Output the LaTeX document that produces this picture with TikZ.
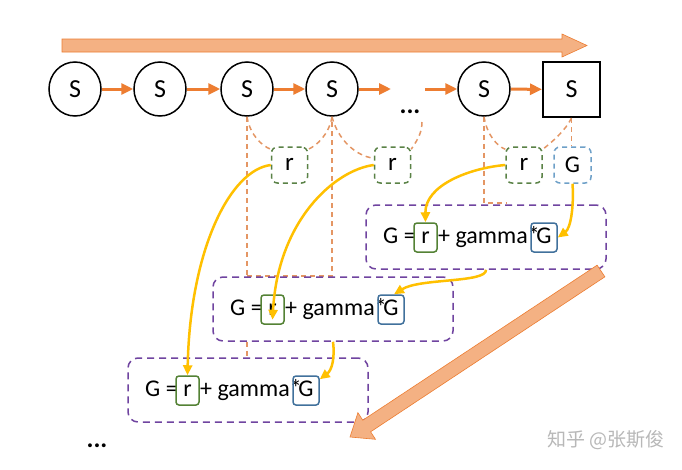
\documentclass[tikz,border=0pt]{standalone}
\usepackage{fontspec}
\setmainfont{Carlito}
\newfontfamily\cjkfont{Noto Sans CJK SC}
\usetikzlibrary{arrows.meta,shapes.geometric}

\definecolor{orng}{RGB}{237,125,49}
\definecolor{dorng}{RGB}{228,150,100}
\definecolor{salmon}{RGB}{244,177,131}
\definecolor{purp}{RGB}{112,68,160}
\definecolor{grn}{RGB}{84,130,53}
\definecolor{dgrn}{RGB}{90,130,70}
\definecolor{blu}{RGB}{65,113,156}
\definecolor{dblu}{RGB}{110,160,200}
\definecolor{ylw}{RGB}{255,192,0}

\tikzset{
 snode/.style={ellipse, draw, line width=1.5pt, minimum width=52pt, minimum height=54pt, inner sep=0pt, font=\fontsize{26}{30}\selectfont},
 sqnode/.style={rectangle, draw, line width=2pt, minimum width=57pt, minimum height=55pt, inner sep=0pt, font=\fontsize{26}{30}\selectfont},
 flow/.style={orng, line width=3pt, -{Triangle[length=12pt,width=11pt]}},
 link/.style={dorng, line width=1.5pt, dash pattern=on 5pt off 4pt},
 rdash/.style={draw=dgrn, dash pattern=on 5pt off 4pt, line width=1.5pt, rounded corners=6pt, minimum width=36pt, minimum height=36pt, inner sep=0pt, text height=14pt, text depth=4pt, font=\fontsize{25}{28}\selectfont},
 gdash/.style={draw=dblu, dash pattern=on 5pt off 4pt, line width=1.5pt, rounded corners=6pt, minimum width=37pt, minimum height=36pt, inner sep=0pt, font=\fontsize{24}{28}\selectfont},
 fbox/.style={draw=purp, fill=white, line width=1.5pt, dash pattern=on 7pt off 5pt, rounded corners=10pt, minimum width=240pt, minimum height=64pt, inner sep=0pt},
 ftext/.style={inner sep=0pt, text height=17pt, text depth=6pt, font=\fontsize{24}{28}\selectfont},
 rsol/.style={draw=grn, line width=1.5pt, rounded corners=3pt, minimum width=23pt, minimum height=29pt, inner sep=0pt, text height=17pt, text depth=6pt, font=\fontsize{24}{28}\selectfont},
 gsol/.style={draw=blu, line width=1.5pt, rounded corners=3pt, minimum width=26pt, minimum height=29pt, inner sep=0pt, text height=17pt, text depth=6pt, font=\fontsize{24}{28}\selectfont},
 pass/.style={ylw, line width=2.5pt, -{Triangle[length=10pt,width=9pt]}},
 bigarrow/.style={fill=salmon, draw=orng, line width=0.6pt},
 dotsty/.style={inner sep=0pt, font=\bfseries\fontsize{26}{28}\selectfont},
}

\newcommand\mkformula[3]{%
 \node[fbox] (#1) at (#2+120,#3+32) {};
 \node[ftext,anchor=west] (#1a) at (#2+17,#3+32.5) {G =};
 \node[rsol] (#1r) at (#2+59.5,#3+32.5) {r};
 \node[ftext,anchor=west] (#1b) at (#2+72,#3+32.5) {+ gamma*};
 \node[gsol] (#1g) at (#2+178,#3+32.5) {G};
}

\begin{document}
\begin{tikzpicture}[x=1pt,y=-1pt]
\fill[white] (0,0) rectangle (682,469);
\useasboundingbox (0,0) rectangle (682,469);

% top progress arrow
\draw[bigarrow] (62,39) -- (562,39) -- (562,34) -- (587,45.5) -- (562,57) -- (562,52) -- (62,52) -- cycle;

% states
\node[snode] (c1) at (75,89) {S};
\node[snode] (c2) at (160,89) {S};
\node[snode] (c3) at (247,89) {S};
\node[snode] (c4) at (332,89) {S};
\node[snode] (c5) at (484,89) {S};
\node[sqnode] (sq) at (571.5,89.5) {S};
\coordinate (dA) at (391,89);
\coordinate (dB) at (425,89);
\node[dotsty] (dots) at (410,112) {...};
\coordinate (dl) at (422,122);

\draw[flow] (c1) -- (c2);
\draw[flow] (c2) -- (c3);
\draw[flow] (c3) -- (c4);
\draw[flow] (c4) -- (dA);
\draw[flow] (dB) -- (c5);
\draw[flow] (c5) -- (sq);

% reward / return boxes
\node[rdash] (rA) at (289.5,165) {r};
\node[rdash] (rB) at (392.5,165) {r};
\node[rdash] (rC) at (524,165) {r};
\node[gdash] (gC) at (572.5,165) {G};

% dashed links
\draw[link] (c3.south) .. controls (250,135) and (262,146) .. ([yshift=-3pt]rA.north west);
\draw[link] (c4.south) .. controls (329,135) and (316,146) .. ([yshift=-3pt]rA.north east);
\draw[link] (c4.south) .. controls (338,140) and (356,156) .. ([yshift=-12pt]rB.north west);
\draw[link] (dl) .. controls (422,135) and (415,143) .. ([yshift=-3pt]rB.north east);
\draw[link] (c5.south) .. controls (487,135) and (497,146) .. ([yshift=-3pt]rC.north west);
\draw[link] (sq.south) .. controls (566,130) and (551,143) .. ([yshift=-3pt]rC.north east);
\draw[link] (sq.south) -- (sq.south |- gC.north);

\coordinate (h1) at (0,276);
\coordinate (h2) at (0,203);
\coordinate (h3) at (0,358);
\draw[link] (c3.south) -- (c3.south |- h3);
\draw[link] (c3.south |- h1) -- (c4.south |- h1) -- (c4.south);
\draw[link] (c5.south) -- (c5.south |- h2) -- ++(22,0);

% formula boxes
\mkformula{bA}{366}{205}
\mkformula{bB}{213}{277}
\mkformula{bC}{128}{358}

% yellow passes
\draw[pass] (rC.west) .. controls (470,168) and (425,185) .. (bAr.north);
\draw[pass] (gC.south) .. controls (574,205) and (571,228) .. (bAg.east);
\draw[pass] (bA.south) .. controls (487,283) and (420,278) .. ([xshift=3pt]bBg.north);
\draw[pass] (rB.west) .. controls (335,170) and (278,220) .. ([yshift=5pt]bBr.south);
\draw[pass] (rA.west) .. controls (230,170) and (190,250) .. (bCr.north);
\draw[pass] (bB.south) .. controls (335,358) and (332,370) .. ([yshift=-4pt]bCg.north east);

% diagonal arrow
\draw[bigarrow] (597.1,265.2) -- (362.8,420.2) -- (357.9,412.7) -- (350,437) -- (375.5,439.3) -- (370.6,431.8) -- (604.9,276.8) -- cycle;

\node[dotsty] (dots2) at (97,446) {...};
\node[font=\cjkfont\fontsize{19}{22}\selectfont, text=black!28, inner sep=0pt] (wm) at (606,440) {知乎 @张斯俊};
\end{tikzpicture}
\end{document}
